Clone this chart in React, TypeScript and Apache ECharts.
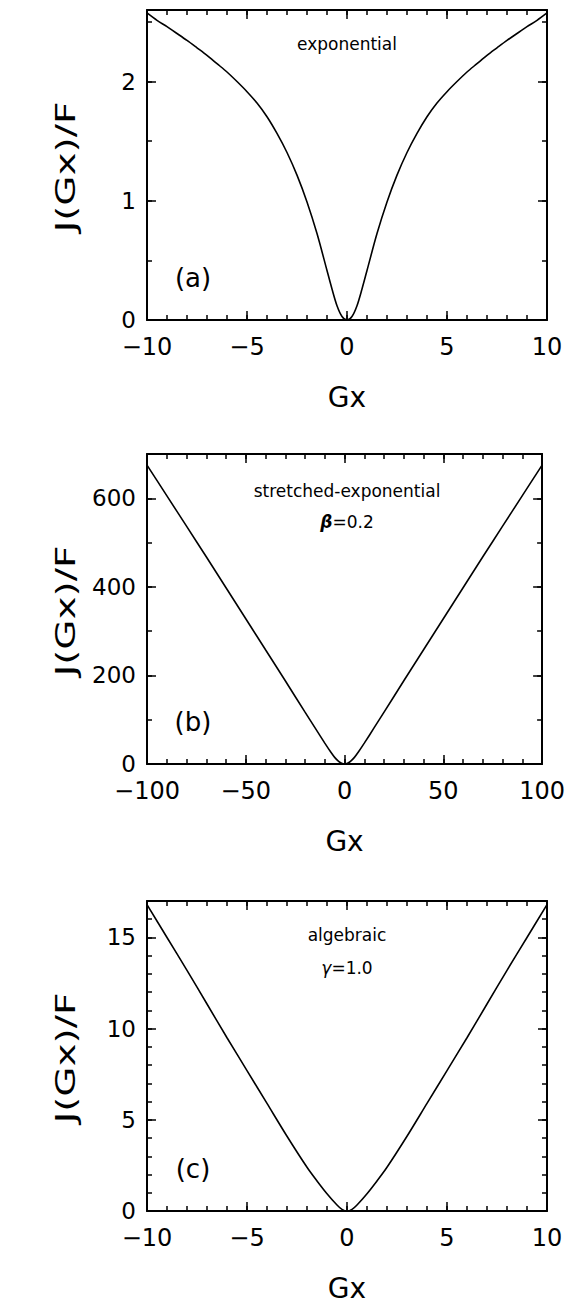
import React, { useEffect, useRef } from 'react';
import * as echarts from 'echarts';

// Panel (a): exponential
const gxA = [-10, -9.5, -9, -8.5, -8, -7.5, -7, -6.5, -6, -5.5, -5, -4.5, -4, -3.5, -3, -2.5, -2, -1.5, -1, -0.75, -0.5, -0.25, 0, 0.25, 0.5, 0.75, 1, 1.5, 2, 2.5, 3, 3.5, 4, 4.5, 5, 5.5, 6, 6.5, 7, 7.5, 8, 8.5, 9, 9.5, 10];
const jA = [2.575, 2.513, 2.46, 2.403, 2.345, 2.283, 2.22, 2.15, 2.08, 2.0, 1.915, 1.82, 1.705, 1.565, 1.405, 1.215, 0.99, 0.725, 0.415, 0.26, 0.12, 0.03, 0, 0.03, 0.12, 0.26, 0.415, 0.725, 0.99, 1.215, 1.405, 1.565, 1.705, 1.82, 1.915, 2.0, 2.08, 2.15, 2.22, 2.283, 2.345, 2.403, 2.46, 2.513, 2.575];

// Panel (b): stretched-exponential, beta = 0.2
const gxB = [-100, -90, -80, -70, -60, -50, -40, -30, -20, -15, -10, -7, -5, -3, -1.5, 0, 1.5, 3, 5, 7, 10, 15, 20, 30, 40, 50, 60, 70, 80, 90, 100];
const jB = [675, 606, 537, 468, 398, 328, 258, 188, 117, 82, 47, 27, 15, 6, 1.5, 0, 1.5, 6, 15, 27, 47, 82, 117, 188, 258, 328, 398, 468, 537, 606, 675];

// Panel (c): algebraic, gamma = 1.0
const gxC = [-10, -9, -8, -7, -6, -5, -4, -3, -2, -1.5, -1, -0.5, -0.25, 0, 0.25, 0.5, 1, 1.5, 2, 3, 4, 5, 6, 7, 8, 9, 10];
const jC = [16.8, 15.0, 13.2, 11.35, 9.5, 7.7, 5.9, 4.1, 2.4, 1.65, 0.95, 0.33, 0.09, 0, 0.09, 0.33, 0.95, 1.65, 2.4, 4.1, 5.9, 7.7, 9.5, 11.35, 13.2, 15.0, 16.8];

// Axis settings per panel
const xMins = [-10, -100, -10];
const xMaxs = [10, 100, 10];
const xMajor = [5, 50, 5];
const xMinor = [1, 10, 1];
const yMins = [0, 0, 0];
const yMaxs = [2.6, 700, 17];
const yMajor = [1, 200, 5];
const yMinor = [0.5, 100, 1];

const panelLabels = ['(a)', '(b)', '(c)'];
const noteLine1 = ['exponential', 'stretched-exponential', 'algebraic'];
const noteLine2 = ['', '{g|β}=0.2', '{g|γ}=1.0'];
const xTitle = 'Gx';
const yTitle = 'J(Gx)/F';

const FONT = '"DejaVu Sans", "Liberation Sans", sans-serif';
const gridTops = [10, 454, 901];
const GRID_LEFT = 147;
const GRID_W = 400;
const GRID_H = 310;

const fmt = (v: number) => (v < 0 ? '\u2212' + String(-v) : String(v));

export default function App() {
  const ref = useRef<HTMLDivElement>(null);
  useEffect(() => {
    if (!ref.current) return;
    const chart = echarts.init(ref.current, null, { renderer: 'svg' });
    const datasets = [
      gxA.map((x, i) => [x, jA[i]]),
      gxB.map((x, i) => [x, jB[i]]),
      gxC.map((x, i) => [x, jC[i]]),
    ];
    const grids: any[] = [];
    const xAxes: any[] = [];
    const yAxes: any[] = [];
    const series: any[] = [];
    const graphics: any[] = [];
    for (let i = 0; i < 3; i++) {
      grids.push({ left: GRID_LEFT, top: gridTops[i], width: GRID_W, height: GRID_H, containLabel: false });
      const xBase = {
        type: 'value', gridIndex: i, min: xMins[i], max: xMaxs[i],
        splitLine: { show: false },
      };
      const line = { show: true, onZero: false, lineStyle: { color: '#000', width: 2 } };
      const noLine = { show: false, onZero: false };
      const majTick = { show: true, inside: true, length: 9, lineStyle: { color: '#000', width: 1.5 } };
      const minTick = { show: true, inside: true, length: 5, lineStyle: { color: '#000', width: 1.5 } };
      xAxes.push({
        ...xBase, position: 'bottom', interval: xMajor[i], axisLine: line, axisTick: majTick,
        axisLabel: { show: true, color: '#000', fontSize: 24, fontFamily: FONT, margin: 15, formatter: fmt },
        name: xTitle, nameLocation: 'middle', nameGap: 63,
        nameTextStyle: { color: '#000', fontSize: 28, fontFamily: FONT },
      });
      xAxes.push({ ...xBase, position: 'bottom', interval: xMinor[i], axisLine: noLine, axisTick: minTick, axisLabel: { show: false } });
      xAxes.push({ ...xBase, position: 'top', interval: xMajor[i], axisLine: line, axisTick: majTick, axisLabel: { show: false } });
      xAxes.push({ ...xBase, position: 'top', interval: xMinor[i], axisLine: noLine, axisTick: minTick, axisLabel: { show: false } });
      const yBase = {
        type: 'value', gridIndex: i, min: yMins[i], max: yMaxs[i],
        splitLine: { show: false },
      };
      yAxes.push({
        ...yBase, position: 'left', interval: yMajor[i], axisLine: line, axisTick: majTick,
        axisLabel: { show: true, color: '#000', fontSize: 23, fontFamily: FONT, margin: 11, showMaxLabel: false, formatter: fmt },
      });
      yAxes.push({ ...yBase, position: 'left', interval: yMinor[i], axisLine: noLine, axisTick: minTick, axisLabel: { show: false } });
      yAxes.push({ ...yBase, position: 'right', interval: yMajor[i], axisLine: line, axisTick: majTick, axisLabel: { show: false } });
      yAxes.push({ ...yBase, position: 'right', interval: yMinor[i], axisLine: noLine, axisTick: minTick, axisLabel: { show: false } });
      series.push({
        type: 'line', xAxisIndex: 4 * i, yAxisIndex: 4 * i, data: datasets[i],
        showSymbol: false, smooth: 0.3, lineStyle: { color: '#000', width: 1.6 },
        silent: true,
      });
      const top = gridTops[i];
      const cx = GRID_LEFT + GRID_W / 2;
      graphics.push({
        type: 'text', x: 66, y: top + GRID_H / 2 + 2, rotation: Math.PI / 2, scaleX: 1.5,
        style: { text: yTitle, fontSize: 26, fontFamily: FONT, fill: '#000', align: 'center', verticalAlign: 'middle' },
      });
      graphics.push({
        type: 'text', x: 193, y: top + GRID_H - 42,
        style: { text: panelLabels[i], fontSize: 26, fontFamily: FONT, fill: '#000', align: 'center', verticalAlign: 'middle' },
      });
      graphics.push({
        type: 'text', x: cx, y: top + (i === 1 ? 37 : 34),
        style: { text: noteLine1[i], fontSize: 17, fontFamily: FONT, fill: '#000', align: 'center', verticalAlign: 'middle' },
      });
      if (noteLine2[i]) {
        graphics.push({
          type: 'text', x: cx, y: top + (i === 1 ? 68 : 67),
          style: {
            text: noteLine2[i], fontSize: 17, fontFamily: FONT, fill: '#000', align: 'center', verticalAlign: 'middle',
            rich: { g: { fontSize: 17, fontFamily: FONT, fontStyle: 'italic', fontWeight: i === 1 ? 'bold' : 'normal', fill: '#000' } },
          },
        });
      }
    }
    chart.setOption({
      animation: false,
      backgroundColor: '#fff',
      grid: grids,
      xAxis: xAxes,
      yAxis: yAxes,
      series,
      graphic: graphics,
    });
    return () => chart.dispose();
  }, []);
  return (
    <div
      ref={ref}
      style={{ position: 'fixed', left: 0, top: 0, width: 568, height: 1304, background: '#fff' }}
    />
  );
}
